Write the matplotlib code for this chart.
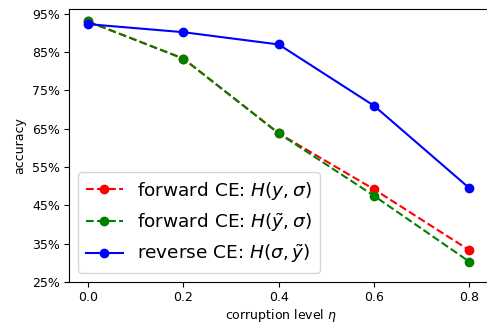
import matplotlib
matplotlib.use("Agg")
import matplotlib.pyplot as plt
from matplotlib.ticker import FuncFormatter

eta = [0.0, 0.2, 0.4, 0.6, 0.8]
fwd_clean = [93.0, 83.3, 63.8, 49.2, 33.3]
fwd_noisy = [93.0, 83.3, 63.8, 47.5, 30.3]
rev_noisy = [92.3, 90.2, 87.0, 71.0, 49.5]
yticks = [25, 35, 45, 55, 65, 75, 85, 95]

fig = plt.figure(figsize=(4.87, 3.24), dpi=100)
ax = fig.add_axes([0.1417, 0.1296, 0.87, 0.842])

ax.plot(eta, fwd_clean, 'r--', marker='o', markersize=6, lw=1.5,
        label=r'forward CE: $H(y,\sigma)$')
ax.plot(eta, fwd_noisy, 'g--', marker='o', markersize=6, lw=1.5,
        label=r'forward CE: $H(\tilde{y},\sigma)$')
ax.plot(eta, rev_noisy, 'b-', marker='o', markersize=6, lw=1.5,
        label=r'reverse CE: $H(\sigma,\tilde{y})$')

ax.set_xlim(-0.04, 0.849)
ax.set_ylim(25, 96.2)
ax.set_yticks(yticks)
ax.yaxis.set_major_formatter(FuncFormatter(lambda v, p: f"{v:.0f}%"))
ax.set_xticks(eta)
ax.tick_params(labelsize=9, pad=3)
ax.set_xlabel(r'corruption level $\eta$', fontsize=9, labelpad=2)
ax.set_ylabel('accuracy', fontsize=9)
ax.legend(loc='lower left', fontsize=13.3)

fig.savefig("out.png", dpi=100)
